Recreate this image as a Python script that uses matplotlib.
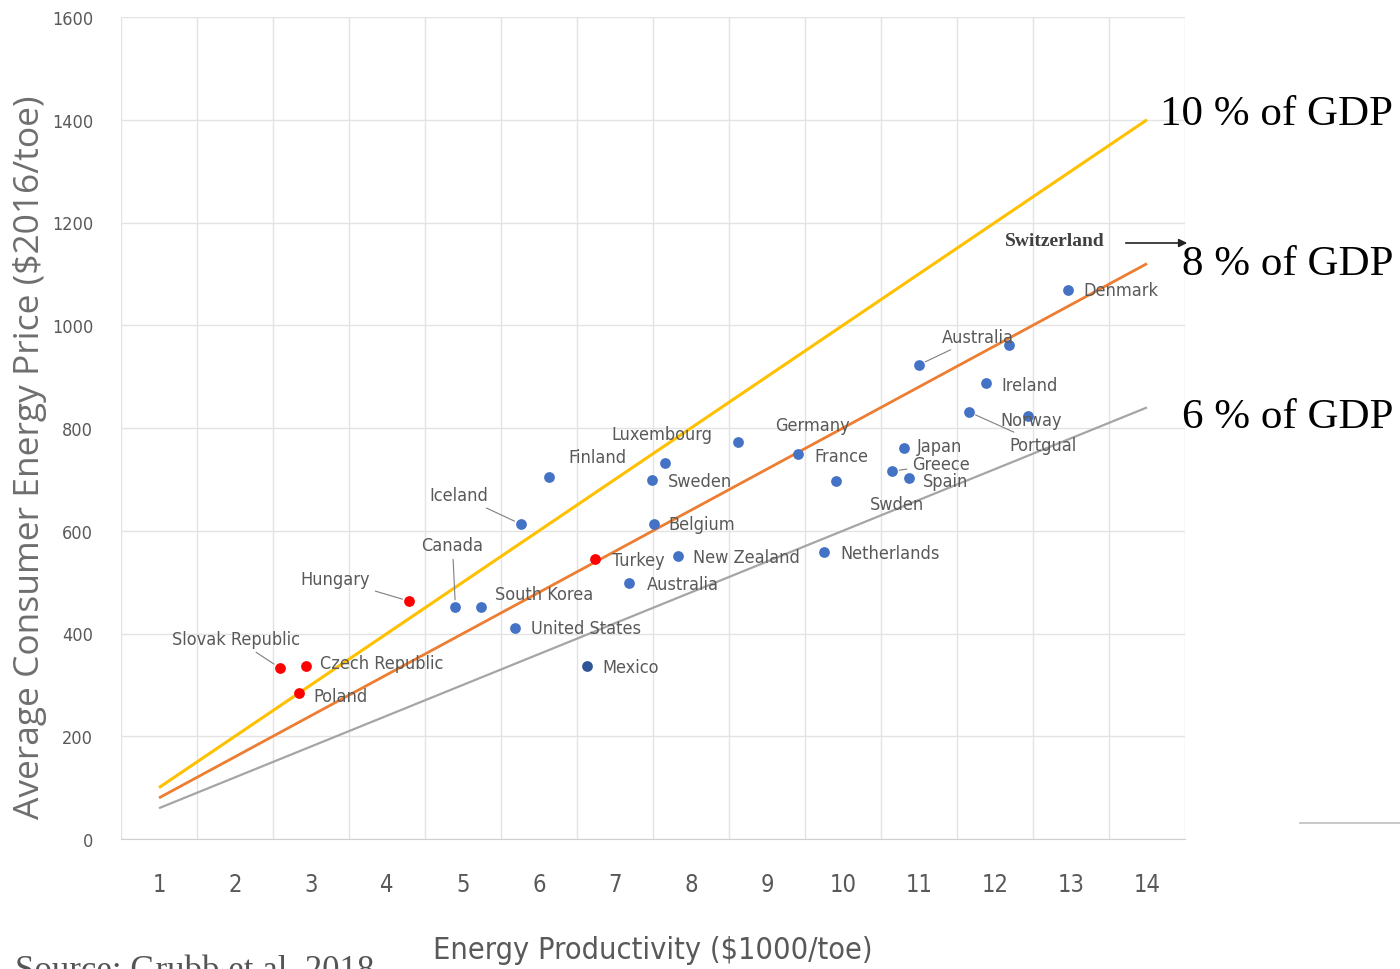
import matplotlib
matplotlib.use("Agg")
import matplotlib.pyplot as plt

### data

countries = ["Slovak Republic", "Czech Republic", "Poland", "Hungary", "Canada",
             "South Korea", "United States", "Iceland", "Finland", "Mexico",
             "Turkey", "Australia", "Belgium", "Sweden", "Luxembourg",
             "New Zealand", "Germany", "France", "Netherlands", "Swden",
             "Greece", "Japan", "Spain", "Australia", "Portgual", "Ireland",
             "Norway", "", "Denmark"]
productivity = [2.59, 2.93, 2.84, 4.29, 4.90, 5.24, 5.69, 5.76, 6.13, 6.63,
                6.74, 7.19, 7.51, 7.49, 7.66, 7.83, 8.62, 9.41, 9.75, 9.91,
                10.65, 10.80, 10.87, 11.00, 11.66, 11.88, 12.44, 12.19, 12.96]
price = [333, 337, 284, 463, 452, 452, 411, 613, 705, 337,
         545, 499, 613, 699, 732, 551, 773, 749, 559, 697,
         716, 761, 703, 923, 831, 888, 823, 962, 1069]
group = ["r", "r", "r", "r", "b", "b", "b", "b", "b", "m",
         "r", "b", "b", "b", "b", "b", "b", "b", "b", "b",
         "b", "b", "b", "b", "b", "b", "b", "b", "b"]

line_x = [1, 14]
gdp_share = [10, 8, 6]
gdp_labels = ["10 % of GDP", "8 % of GDP", "6 % of GDP"]
x_ticks = list(range(1, 15))
y_ticks = list(range(0, 1601, 200))

### label placement (pixel offsets from the dot) and leader lines
offsets = [(-44, 29), (14, 3), (15, -3), (-74, 22), (-3, 62),
           (14, 13), (16, 0), (-62, 29), (19, 20), (15, -1),
           (17, -1), (17, -1), (15, 0), (16, -1), (-3, 29),
           (15, -1), (37, 17), (16, -2), (16, -1), (34, -23),
           (20, 7), (13, 2), (14, -3), (23, 28), (40, -33),
           (15, -2), (3, -4), (0, 0), (15, 0)]
leaders = {"Slovak Republic", "Hungary", "Canada", "Iceland", "Portgual"}
leader_idx = {23, 20}  # upper Australia, Greece

colours = {"r": "#FF0000", "b": "#4472C4", "m": "#2F5597"}
line_colours = ["#FFC000", "#ED7D31", "#A5A5A5"]
line_widths = [2.2, 2.0, 1.6]

narrow = ["DejaVu Sans"]
serif = ["Liberation Serif", "DejaVu Serif"]
grey = "#595959"

fig = plt.figure(figsize=(14, 9.7), dpi=100)
ax = fig.add_axes([121/1400, 1-840/970, (1185-121)/1400, (840-18)/970])

for share, c, lw in zip(gdp_share, line_colours, line_widths):
  ax.plot(line_x, [share*10*x for x in line_x], color=c, lw=lw, zorder=2,
          solid_capstyle="butt")

for i in range(len(countries)):
  ax.scatter(productivity[i], price[i], s=60, color=colours[group[i]],
             zorder=3, linewidths=0)
  if countries[i] == "":
    continue
  dx, dy = offsets[i]
  if dx > 12:
    ha = "left"
  else:
    ha = "center"
  ap = None
  if countries[i] in leaders or i in leader_idx:
    ap = dict(arrowstyle="-", color="#7F7F7F", lw=0.8, shrinkA=2, shrinkB=5)
  ax.annotate(countries[i], (productivity[i], price[i]), xytext=(dx, dy),
              textcoords="offset pixels", ha=ha, va="center", fontsize=13,
              color=grey, family=narrow, stretch="condensed", arrowprops=ap,
              zorder=4)

ax.set_xlim(0.5, 14.5)
ax.set_ylim(0, 1600)
ax.set_xticks(x_ticks)
ax.set_xticks([x + 0.5 for x in range(0, 15)], minor=True)
ax.set_yticks(y_ticks)
ax.grid(False)
ax.grid(True, which="minor", axis="x", color="#E3E3E3", lw=1)
ax.grid(True, which="major", axis="y", color="#E3E3E3", lw=1)
ax.set_axisbelow(True)
for s in ["top", "right", "left"]:
  ax.spines[s].set_visible(False)
ax.spines["bottom"].set_color("#D0D0D0")
ax.tick_params(which="both", length=0)
ax.tick_params(axis="x", pad=24, labelsize=17, labelcolor=grey)
ax.tick_params(axis="y", pad=20, labelsize=13, labelcolor=grey)
for lab in ax.get_xticklabels() + ax.get_yticklabels():
  lab.set_family(narrow)
  lab.set_stretch("condensed")

ax.set_xlabel("Energy Productivity ($1000/toe)", fontsize=22, color=grey,
              family=narrow, stretch="condensed", labelpad=28)
fig.text(30/1400, 1-457/970, "Average Consumer Energy Price ($2016/toe)",
         rotation=90, ha="center", va="center", fontsize=25.5, color="#6E6E6E",
         family=["Open Sans", "DejaVu Sans"])

### right hand labels
fig.text(1160/1400, 1-115/970, gdp_labels[0], fontsize=31, family=serif,
         va="center", ha="left", color="black")
fig.text(1182/1400, 1-265/970, gdp_labels[1], fontsize=31, family=serif,
         va="center", ha="left", color="black")
fig.text(1182/1400, 1-418/970, gdp_labels[2], fontsize=31, family=serif,
         va="center", ha="left", color="black")

fig.text(1055/1400, 1-241/970, "Switzerland", fontsize=14, family=serif,
         weight="bold", ha="center", va="center", color="#404040")
fig.add_artist(matplotlib.patches.FancyArrowPatch(
  (1123/1400, 1-244/970), (1190/1400, 1-244/970), transform=fig.transFigure,
  arrowstyle="-|>", mutation_scale=12, color="#222222", lw=1.2))
fig.add_artist(matplotlib.lines.Line2D([1300/1400, 1], [1-824/970, 1-824/970],
                                       transform=fig.transFigure,
                                       color="#BFBFBF", lw=1.2))

fig.text(15/1400, 1-955/970, "Source: Grubb et al. 2018", fontsize=25,
         family=serif, color="#555555", ha="left", va="top")

fig.savefig("out.png", dpi=100)
